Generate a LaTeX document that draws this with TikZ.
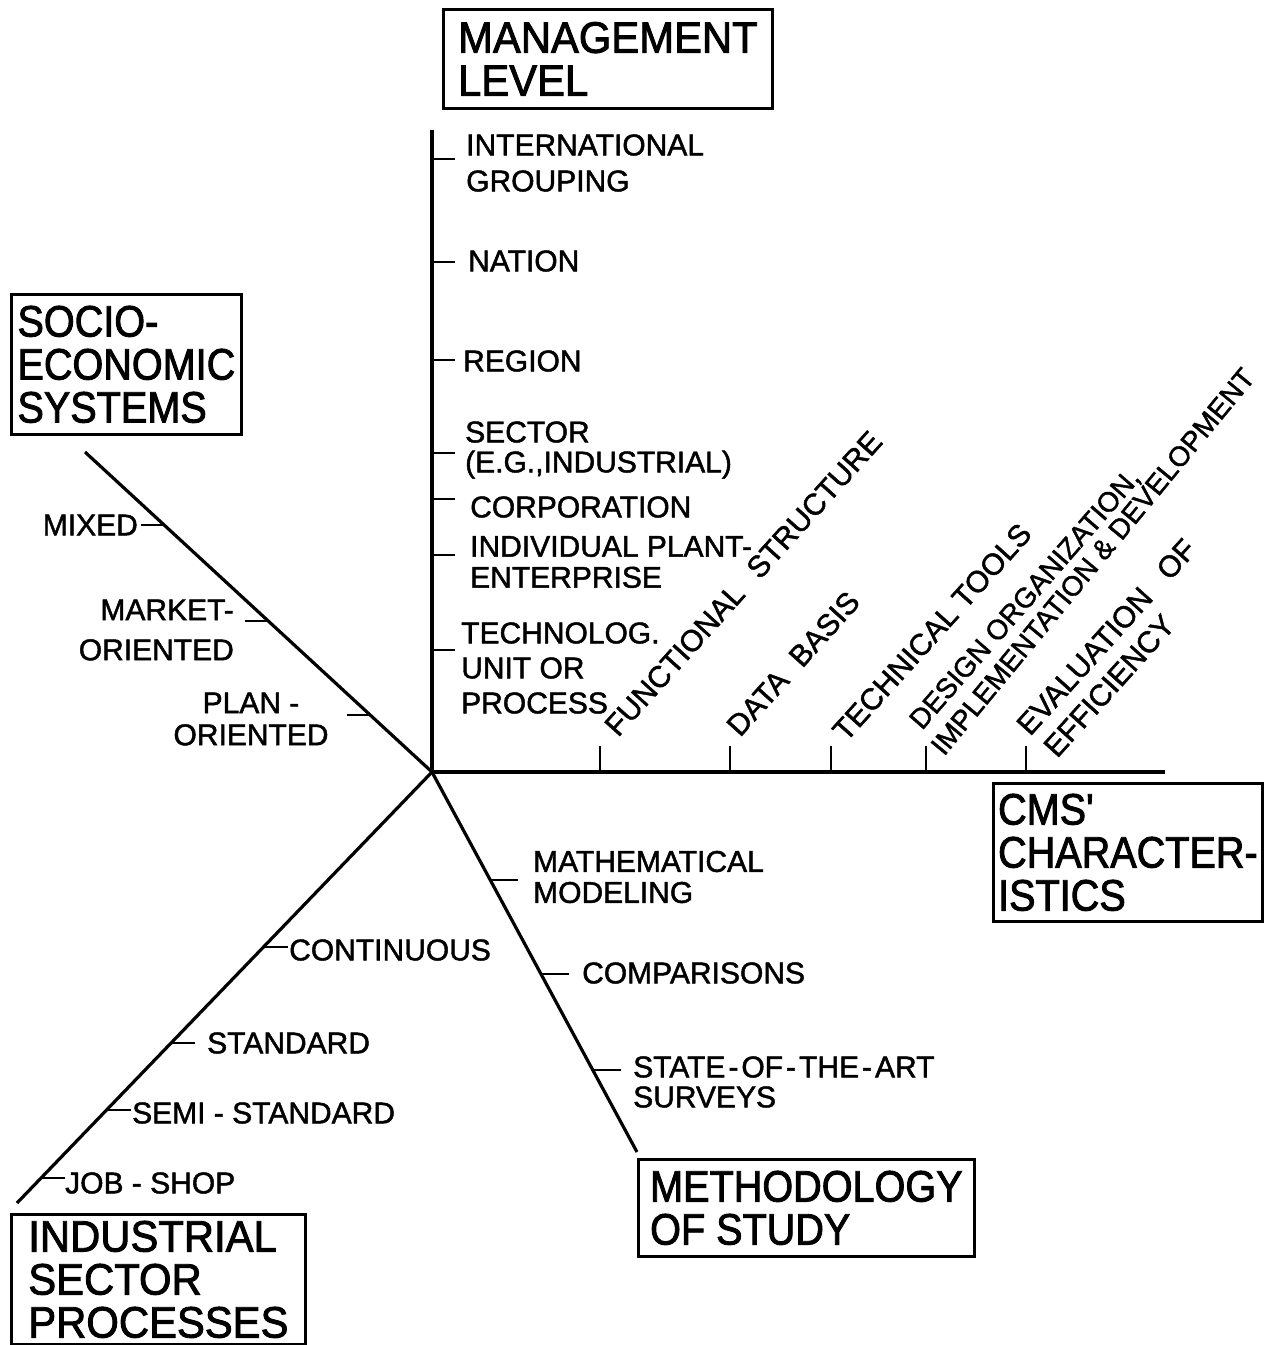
\documentclass[tikz,border=0pt]{standalone}
\usepackage{fontspec}
\setmainfont{Liberation Sans}[FakeBold=1.5]
\newfontfamily\boxfontwide[FakeStretch=0.95,FakeBold=2]{Liberation Sans}
\newfontfamily\boxfontnarrow[FakeStretch=0.9,FakeBold=2]{Liberation Sans}
\usetikzlibrary{calc}
\newcommand{\hy}{\hspace{3pt}-\hspace{3pt}}
\begin{document}
\begin{tikzpicture}[x=1pt,y=-1pt,
  axis/.style={line width=3.2pt},
  tickmark/.style={line width=2.6pt},
  lbl/.style={inner sep=0pt, anchor=west, align=left, font=\fontsize{30}{34}\selectfont},
  rlbl/.style={inner sep=0pt, anchor=base west, font=\fontsize{30}{34}\selectfont},
  bigbox/.style={draw, line width=2.8pt, anchor=north west, inner sep=0pt, align=left},
  widebox/.style={bigbox, font=\boxfontwide\fontsize{44}{43}\selectfont},
  narrowbox/.style={bigbox, font=\boxfontnarrow\fontsize{44}{43}\selectfont}]
\useasboundingbox (0,0) rectangle (1268,1345);

% --- the five axes meeting at the origin
\coordinate (O) at (432,772);
\coordinate (Vtop) at (432,130);
\coordinate (Hend) at (1165,772);
\coordinate (UL) at (85,452);
\coordinate (LL) at (17,1203);
\coordinate (LR) at (637,1152);
\draw[axis] (Vtop) -- (O) -- (Hend);
\draw[axis] (UL) -- (O);
\draw[axis] (O) -- (LL);
\draw[axis] (O) -- (LR);

% --- title boxes
\node[widebox, minimum width=329pt, minimum height=99pt] (mgmt) at (442,8) {MANAGEMENT\\LEVEL};
\node[narrowbox, minimum width=230pt, minimum height=140pt] (socio) at (10,293) {SOCIO-\\ECONOMIC\\SYSTEMS};
\node[narrowbox, minimum width=269pt, minimum height=138pt] (cms) at (992,782) {CMS'\\CHARACTER-\\ISTICS};
\node[widebox, minimum width=294pt, minimum height=130pt] (indus) at (10,1213) {INDUSTRIAL\\SECTOR\\PROCESSES};
\node[narrowbox, minimum width=336pt, minimum height=97pt] (meth) at (637,1158) {METHODOLOGY\\OF STUDY};

% --- management level (vertical axis)
\foreach \n/\yy in {v1/159, v2/262, v3/360, v4/453, v5/499, v6/555, v7/650}
  \coordinate (\n) at (432,\yy);
\foreach \n in {v1,v2,v3,v4,v5,v6,v7}
  \draw[tickmark] (\n) -- ++(23,0);
\node[lbl, font=\fontsize{30}{36}\selectfont] (intl) at (466,163) {INTERNATIONAL\\GROUPING};
\node[lbl] (nation) at (468,261) {NATION};
\node[lbl] (region) at (463,361) {REGION};
\node[lbl, font=\fontsize{30}{30}\selectfont] (sector) at (465,450) {SECTOR\\(E.G.,INDUSTRIAL)};
\node[lbl] (corp) at (470,507) {CORPORATION};
\node[lbl, font=\fontsize{30}{31}\selectfont] (plant) at (470,562) {INDIVIDUAL PLANT-\\ENTERPRISE};
\node[lbl, font=\fontsize{30}{35}\selectfont] (unit) at (461,668) {TECHNOLOG.\\UNIT OR\\PROCESS};

% --- socio-economic systems (upper left axis)
\coordinate (s1) at ($(UL)!0.228!(O)$);
\coordinate (s2) at ($(UL)!0.528!(O)$);
\coordinate (s3) at ($(UL)!0.822!(O)$);
\foreach \n in {s1,s2,s3}
  \draw[tickmark] (\n) -- ++(-23,0);
\node[lbl, anchor=east] (mixed) at (138,525) {MIXED};
\node[lbl, anchor=east, align=right, font=\fontsize{30}{40}\selectfont] (market) at (234,630) {MARKET-\\ORIENTED};
\node[lbl, anchor=center, align=center, font=\fontsize{30}{32}\selectfont] (plan) at (251,719) {PLAN -\\ORIENTED};

% --- industrial sector processes (lower left axis)
\coordinate (p1) at ($(O)!0.406!(LL)$);
\coordinate (p2) at ($(O)!0.629!(LL)$);
\coordinate (p3) at ($(O)!0.784!(LL)$);
\coordinate (p4) at ($(O)!0.942!(LL)$);
\foreach \n in {p1,p2,p3,p4}
  \draw[tickmark] (\n) -- ++(24,0);
\node[lbl] (cont) at (289,950) {CONTINUOUS};
\node[lbl] (std) at (207,1043) {STANDARD};
\node[lbl] (semi) at (132,1113) {SEMI - STANDARD};
\node[lbl] (job) at (65,1183) {JOB - SHOP};

% --- methodology of study (lower right axis)
\coordinate (m1) at ($(O)!0.284!(LR)$);
\coordinate (m2) at ($(O)!0.532!(LR)$);
\coordinate (m3) at ($(O)!0.784!(LR)$);
\foreach \n in {m1,m2,m3}
  \draw[tickmark] (\n) -- ++(28,0);
\node[lbl, font=\fontsize{30}{31}\selectfont] (math) at (533,877) {MATHEMATICAL\\MODELING};
\node[lbl] (comp) at (582,973) {COMPARISONS};
\node[lbl, font=\fontsize{30}{30}\selectfont] (state) at (633,1082) {STATE\hy OF\hy THE\hy ART\\SURVEYS};

% --- CMS characteristics (horizontal axis)
\foreach \n/\xx in {h1/600, h2/730, h3/831, h4/926, h5/1026}
  \coordinate (\n) at (\xx,772);
\foreach \n in {h1,h2,h3,h4,h5}
  \draw[tickmark] (\n) -- ++(0,-26);
\node[rlbl, rotate=48] (func) at (618,738) {FUNCTIONAL\hspace{0.4em} STRUCTURE};
\node[rlbl, rotate=48] (data) at (740,738) {DATA\hspace{0.3em} BASIS};
\node[rlbl, rotate=48] (tech) at (846,743) {TECHNICAL TOOLS};
\node[rlbl, rotate=49, font=\fontsize{28}{34}\selectfont] (design) at (922,731) {DESIGN ORGANIZATION,};
\node[rlbl, rotate=50.5, font=\fontsize{28}{34}\selectfont] (impl) at (944,757) {IMPLEMENTATION \& DEVELOPMENT};
\node[rlbl, rotate=48] (eval) at (1030,737) {EVALUATION\hspace{0.5em} OF};
\node[rlbl, rotate=48] (effic) at (1057,759) {EFFICIENCY};
\end{tikzpicture}
\end{document}
